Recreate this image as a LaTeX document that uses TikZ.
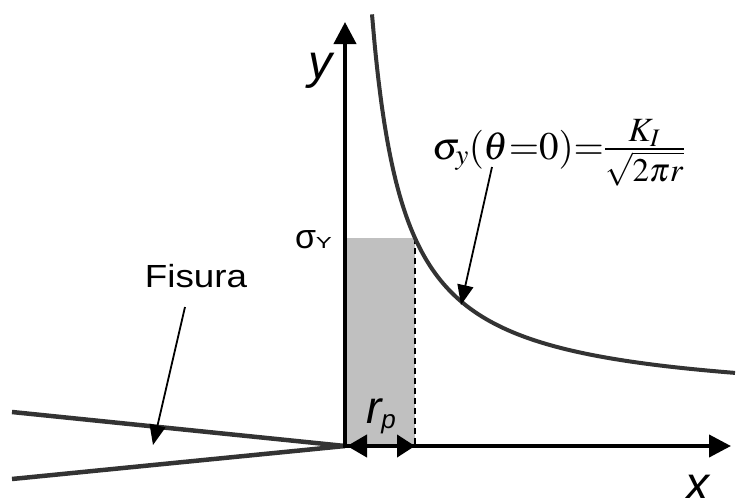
\documentclass[tikz,border=0pt]{standalone}
\usepackage{mathptmx}
\usepackage[no-math]{fontspec}
\setmainfont{Liberation Sans}
\usetikzlibrary{arrows.meta}
\definecolor{linegray}{HTML}{333333}
\definecolor{zonegray}{HTML}{C0C0C0}
\begin{document}
\begin{tikzpicture}[x=1pt,y=1pt,
  axis/.style={line width=4pt, -{Triangle[width=22pt,length=22pt]}},
  crack/.style={line width=4.5pt, draw=linegray},
  curveline/.style={line width=4pt, draw=linegray},
  pointer/.style={line width=1.8pt, -{Triangle[width=16pt,length=20pt]}},
  dimarrow/.style={line width=4pt, {Triangle[width=22pt,length=20pt]}-{Triangle[width=22pt,length=18pt]}},
  lbl/.style={inner sep=0pt, outer sep=0pt}]
\useasboundingbox (0,0) rectangle (737,-498);
% coordinates
\coordinate (O) at (345,-446);
\coordinate (ytip) at (345,-22);
\coordinate (xtip) at (731,-446);
\coordinate (ybot) at (345,-448);
\coordinate (zoneTL) at (347,-238);
\coordinate (zoneBR) at (415,-446);
\coordinate (dashtop) at (415,-238);
\coordinate (rpleft) at (347,-446);
\coordinate (rpright) at (415,-446);
\coordinate (crackA) at (12,-412);
\coordinate (crackB) at (12,-479);
\coordinate (fstart) at (492,-167);
\coordinate (ftip) at (461,-305);
\coordinate (cstart) at (185,-307);
\coordinate (ctip) at (153,-445);
% plastic zone
\fill[zonegray] (zoneTL) rectangle (zoneBR);
\draw[line width=2pt, dash pattern=on 6pt off 4pt] (dashtop) -- (rpright);
% crack
\draw[crack] (crackA) -- (O);
\draw[crack] (crackB) -- (O);
% axes
\draw[axis] (ybot) -- (ytip);
\draw[axis] (O) -- (xtip);
% stress curve
\draw[curveline] plot[domain=32:395, samples=120, smooth] ({340+\x},{-446+41.5+12484/\x});
% rp dimension
\draw[dimarrow] (rpleft) -- (rpright);
% labels
\node[lbl, anchor=base] (ylabel) at (320,-78) {\fontsize{48}{50}\selectfont\itshape y};
\node[lbl, anchor=base] (xlabel) at (697,-500) {\fontsize{48}{50}\selectfont\itshape x};
\node[lbl, anchor=base west] (sigY) at (295,-248) {\fontsize{34}{36}\selectfont σ\fontsize{16}{18}\selectfont\scalebox{1.5}[1]{Y}};
\node[lbl, anchor=base west] (rp) at (366,-423) {\fontsize{46}{48}\selectfont\itshape r\raisebox{-5pt}{\fontsize{26}{28}\selectfont p}};
\node[lbl, anchor=base] (fisura) at (196,-287) {\fontsize{32}{34}\selectfont\scalebox{1.15}[1]{Fisura}};
\node[lbl, anchor=base west] (formula) at (432,-159) {\fontsize{39}{40}\selectfont $\sigma_y(\theta{=}0){=}\frac{\hbox{\fontsize{34}{36}\selectfont$K_I$}}{\hbox{\fontsize{33}{36}\selectfont$\sqrt{2\pi r}$}}$};
% pointers
\draw[pointer] (fstart) -- (ftip);
\draw[pointer] (cstart) -- (ctip);
\end{tikzpicture}
\end{document}
